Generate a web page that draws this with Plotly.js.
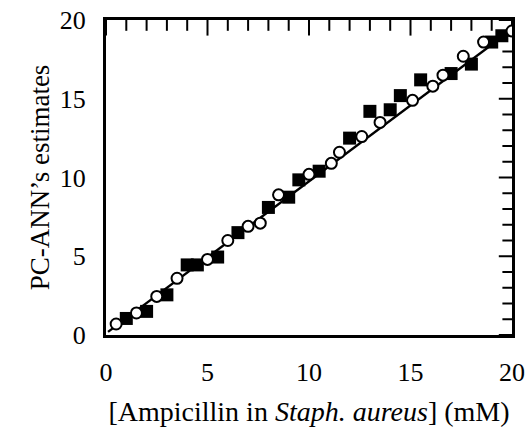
<!DOCTYPE html>
<html>
<head>
<meta charset="utf-8">
<script src="https://cdn.plot.ly/plotly-3.0.1.min.js"></script>
<style>html,body{margin:0;padding:0;background:#fff;}#chart{width:527px;height:429px;}</style>
</head>
<body>
<div id="chart"></div>
<script>
// Open circles
var circleX = [0.5, 1.5, 2.5, 3.5, 5.0, 6.0, 7.0, 7.6, 8.5, 10.0, 11.1, 11.5, 12.6, 13.5, 15.1, 16.1, 16.6, 17.6, 18.6, 20.0];
var circleY = [0.7, 1.4, 2.45, 3.6, 4.8, 6.0, 6.9, 7.1, 8.9, 10.2, 10.9, 11.6, 12.6, 13.5, 14.9, 15.8, 16.5, 17.7, 18.6, 19.3];
// Filled squares
var squareX = [1.0, 2.0, 3.0, 4.0, 4.5, 5.5, 6.5, 8.0, 9.0, 9.5, 10.5, 12.0, 13.0, 14.0, 14.5, 15.5, 17.0, 18.0, 19.0, 19.5];
var squareY = [1.05, 1.5, 2.55, 4.45, 4.45, 4.95, 6.5, 8.1, 8.75, 9.85, 10.4, 12.5, 14.2, 14.3, 15.2, 16.2, 16.6, 17.2, 18.6, 19.0];
// Fitted line end points
var lineX = [0.1, 20];
var lineY = [0.2, 19.4];
// Axis ticks
var tickVals = [0, 5, 10, 15, 20];
var tickText = ['0', '5', '10', '15', '20'];
var axisRange = [0, 20];
var minorStep = 1;

var W = 527, H = 429, M = {l: 106, r: 15, t: 20, b: 94};
var pxX = (W - M.l - M.r) / (axisRange[1] - axisRange[0]);
var pxY = (H - M.t - M.b) / (axisRange[1] - axisRange[0]);

// Tick marks drawn as line-shaped markers placed from the tick values
var allTicks = [];
for (var t = axisRange[0]; t <= axisRange[1] + 1e-9; t += minorStep) allTicks.push(t);
function tickTrace(isMajor, side) {
  var vals = allTicks.filter(function (v) { return (tickVals.indexOf(v) >= 0) === isMajor; });
  var len = {bottom: isMajor ? 12 : 8, top: isMajor ? 13 : 9, left: isMajor ? 12 : 8, right: isMajor ? 11 : 8}[side];
  var xs = [], ys = [];
  vals.forEach(function (v) {
    if (side === 'bottom') { xs.push(v); ys.push(axisRange[0] - len / 2 / pxY); }
    if (side === 'top') { xs.push(v); ys.push(axisRange[1] - len / 2 / pxY); }
    if (side === 'left') { ys.push(v); xs.push(axisRange[0] - len / 2 / pxX); }
    if (side === 'right') { ys.push(v); xs.push(axisRange[1] - len / 2 / pxX); }
  });
  var vertical = (side === 'bottom' || side === 'top');
  return {x: xs, y: ys, mode: 'markers', cliponaxis: false, hoverinfo: 'skip',
    marker: {symbol: vertical ? 'line-ns-open' : 'line-ew-open', size: len, color: 'black', line: {color: 'black', width: 2}}};
}
var traces = [];
['bottom', 'top', 'left', 'right'].forEach(function (s) {
  traces.push(tickTrace(true, s));
  traces.push(tickTrace(false, s));
});
traces.push({x: lineX, y: lineY, mode: 'lines', line: {color: '#000', width: 2.4}, hoverinfo: 'skip'});
traces.push({x: squareX, y: squareY, mode: 'markers', marker: {symbol: 'square', size: 13, color: '#000', line: {color: '#000', width: 0}}});
traces.push({x: circleX, y: circleY, mode: 'markers', marker: {symbol: 'circle', size: 11, color: '#fff', line: {color: '#000', width: 2}}});

var fontFam = '"Liberation Serif", "Times New Roman", serif';
function ax(extra) {
  var a = {
    range: axisRange, tickmode: 'array', tickvals: tickVals, ticktext: tickText,
    ticks: 'outside', ticklen: 12, tickwidth: 2, tickcolor: 'rgba(0,0,0,0)',
    showline: true, linewidth: 3, linecolor: 'black', mirror: true,
    showgrid: false, zeroline: false,
    tickfont: {family: fontFam, size: 26, color: 'black'}
  };
  for (var k in extra) a[k] = extra[k];
  return a;
}
var layout = {
  width: W, height: H,
  margin: M,
  paper_bgcolor: 'white', plot_bgcolor: 'white',
  showlegend: false,
  font: {family: fontFam, color: 'black', size: 26},
  xaxis: ax({
    title: {text: '[Ampicillin in <i>Staph. aureus</i>] (mM)', font: {family: fontFam, size: 28}, standoff: 16}}),
  yaxis: ax({
    title: {text: 'PC-ANN\u2019s estimates', font: {family: fontFam, size: 27}, standoff: 3}})
};
Plotly.newPlot('chart', traces, layout, {displayModeBar: false, staticPlot: true});
</script>
</body>
</html>
